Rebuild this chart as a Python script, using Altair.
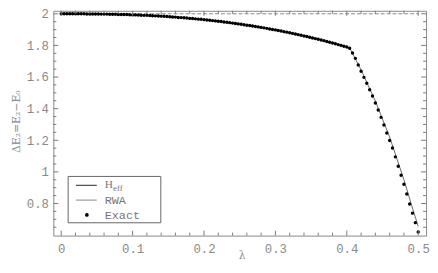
import altair as alt
import pandas as pd

# ---- data ----
exact_lambda = [round(0.004 * i, 3) for i in range(126)]
exact_gap = [
    2.000, 2.000, 2.000, 2.000, 2.000, 2.000, 2.000, 2.000, 2.000, 1.999,
    1.999, 1.999, 1.999, 1.999, 1.998, 1.998, 1.998, 1.997, 1.997, 1.997,
    1.996, 1.996, 1.995, 1.995, 1.994, 1.993, 1.993, 1.992, 1.991, 1.990,
    1.990, 1.989, 1.988, 1.987, 1.986, 1.985, 1.984, 1.983, 1.981, 1.980,
    1.979, 1.977, 1.976, 1.975, 1.973, 1.971, 1.970, 1.968, 1.966, 1.965,
    1.963, 1.961, 1.959, 1.957, 1.955, 1.953, 1.951, 1.948, 1.946, 1.944,
    1.941, 1.939, 1.936, 1.934, 1.931, 1.928, 1.926, 1.923, 1.920, 1.917,
    1.914, 1.911, 1.908, 1.904, 1.901, 1.898, 1.894, 1.891, 1.887, 1.884,
    1.880, 1.876, 1.872, 1.868, 1.864, 1.860, 1.856, 1.852, 1.847, 1.843,
    1.839, 1.834, 1.830, 1.825, 1.820, 1.815, 1.810, 1.805, 1.800, 1.795,
    1.790,
    1.782, 1.752, 1.718, 1.676, 1.637, 1.598, 1.561, 1.520, 1.480, 1.436,
    1.391, 1.345, 1.297, 1.246, 1.198, 1.151, 1.095, 1.036, 0.979, 0.922,
    0.860, 0.797, 0.739, 0.679, 0.620,
]
heff_lambda = [0, 0.05, 0.1, 0.15, 0.2, 0.25, 0.3, 0.35, 0.38, 0.404, 0.42, 0.44, 0.46, 0.48, 0.49, 0.5]
heff_gap = [2.0, 1.999, 1.993, 1.982, 1.963, 1.935, 1.898, 1.852, 1.815, 1.784, 1.645, 1.448, 1.22, 0.95, 0.80, 0.655]
rwa_lambda = [0, 0.5]
rwa_gap = [2.0, 2.0]

x_major = [0, 0.1, 0.2, 0.3, 0.4, 0.5]
x_minor = [0.02, 0.04, 0.06, 0.08, 0.12, 0.14, 0.16, 0.18, 0.22, 0.24, 0.26, 0.28,
           0.32, 0.34, 0.36, 0.38, 0.42, 0.44, 0.46, 0.48]
y_major = [0.8, 1.0, 1.2, 1.4, 1.6, 1.8, 2.0]
y_minor = [0.65, 0.7, 0.75, 0.85, 0.9, 0.95, 1.05, 1.1, 1.15, 1.25, 1.3, 1.35,
           1.45, 1.5, 1.55, 1.65, 1.7, 1.75, 1.85, 1.9, 1.95]

legend_labels = ["H", "RWA", "Exact"]
heff_sub = "eff"

W, H = 378, 228
GRAY = "#8a8a8a"
xs = alt.Scale(domain=[-0.011, 0.511], nice=False, zero=False)
ys = alt.Scale(domain=[0.597, 2.019], nice=False, zero=False)

exact_df = pd.DataFrame({"lam": exact_lambda, "gap": exact_gap})
heff_df = pd.DataFrame({"lam": heff_lambda, "gap": heff_gap})
rwa_df = pd.DataFrame({"lam": rwa_lambda, "gap": rwa_gap})

x_axis = alt.Axis(values=x_major, format="~g", ticks=False, domain=False, grid=False,
                  labelFont="Liberation Mono", labelFontSize=12.5, labelColor=GRAY,
                  labelPadding=7, labelFlush=False, labelOverlap=False,
                  title="λ", titleFont="DejaVu Serif", titleFontSize=11, titleColor=GRAY,
                  titleFontWeight="normal", titleX=191, titleY=20, titleBaseline="middle")
y_axis = alt.Axis(values=y_major, format="~g", ticks=False, domain=False, grid=False,
                  labelFont="Liberation Mono", labelFontSize=12.5, labelColor=GRAY,
                  labelPadding=5, labelFlush=False, labelOverlap=False,
                  title="ΔE₂=E₂−E₀", titleFont="DejaVu Serif", titleFontSize=11,
                  titleColor=GRAY, titleFontWeight="normal", titleAngle=270,
                  titleX=-37, titleY=112, titleBaseline="middle", titleAlign="center")

X = lambda f: alt.X(f, scale=xs, axis=x_axis)
Y = lambda f: alt.Y(f, scale=ys, axis=y_axis)

rwa = alt.Chart(rwa_df).mark_line(color="#888888", strokeWidth=1, strokeDash=[4, 2]).encode(
    x=X("lam:Q"), y=Y("gap:Q"))
heff = alt.Chart(heff_df).mark_line(color="#444444", strokeWidth=0.8).encode(
    x=X("lam:Q"), y=Y("gap:Q"))
exact = alt.Chart(exact_df).mark_circle(size=12, color="black", opacity=1).encode(
    x=X("lam:Q"), y=Y("gap:Q"))

TICK = "#7a7a7a"

def xticks(vals, length):
    df = pd.DataFrame({"lam": vals})
    bottom = alt.Chart(df).mark_rule(color=TICK, strokeWidth=1).encode(
        x=X("lam:Q"), y=alt.value(H), y2=alt.value(H - length))
    top = alt.Chart(df).mark_rule(color=TICK, strokeWidth=1).encode(
        x=X("lam:Q"), y=alt.value(0), y2=alt.value(length))
    return [bottom, top]

def yticks(vals, length):
    df = pd.DataFrame({"gap": vals})
    left = alt.Chart(df).mark_rule(color=TICK, strokeWidth=1).encode(
        y=Y("gap:Q"), x=alt.value(0), x2=alt.value(length))
    right = alt.Chart(df).mark_rule(color=TICK, strokeWidth=1).encode(
        y=Y("gap:Q"), x=alt.value(W), x2=alt.value(W - length))
    return [left, right]

ticks = xticks(x_major, 5) + xticks(x_minor, 3) + yticks(y_major, 5) + yticks(y_minor, 3)

one = pd.DataFrame({"k": [0]})
leg_box = alt.Chart(one).mark_rect(fill="white", stroke="#666666", strokeWidth=1).encode(
    x=alt.value(15), x2=alt.value(109), y=alt.value(168), y2=alt.value(215))
leg_l1 = alt.Chart(one).mark_rule(color="#222222", strokeWidth=1).encode(
    x=alt.value(23), x2=alt.value(44), y=alt.value(177))
leg_l2 = alt.Chart(one).mark_rule(color="#888888", strokeWidth=1).encode(
    x=alt.value(23), x2=alt.value(44), y=alt.value(192))
leg_dot = alt.Chart(one).mark_circle(size=14, color="black", opacity=1).encode(
    x=alt.value(34), y=alt.value(207))
leg_t1 = alt.Chart(one).mark_text(text=legend_labels[0], font="Liberation Serif", fontSize=11.5,
                                  color="#777777", align="left", baseline="middle").encode(
    x=alt.value(52), y=alt.value(177))
leg_t1s = alt.Chart(one).mark_text(text=heff_sub, font="Liberation Serif", fontSize=9,
                                   color="#777777", align="left", baseline="middle").encode(
    x=alt.value(60.5), y=alt.value(180))
leg_t2 = alt.Chart(one).mark_text(text=legend_labels[1], font="Liberation Mono", fontSize=12,
                                  color="#777777", align="left", baseline="middle").encode(
    x=alt.value(52), y=alt.value(192))
leg_t3 = alt.Chart(one).mark_text(text=legend_labels[2], font="Liberation Mono", fontSize=12,
                                  color="#777777", align="left", baseline="middle").encode(
    x=alt.value(52), y=alt.value(207))

chart = alt.layer(
    rwa, heff, exact, *ticks,
    leg_box, leg_l1, leg_l2, leg_dot, leg_t1, leg_t1s, leg_t2, leg_t3,
).properties(
    width=W, height=H,
    autosize=alt.AutoSizeParams(type="none"),
    padding={"left": 46, "top": 1, "right": 4, "bottom": 28},
).configure_view(stroke="#888888", strokeWidth=1)

chart.save("out.html", embed_options={"renderer": "svg", "actions": False})
